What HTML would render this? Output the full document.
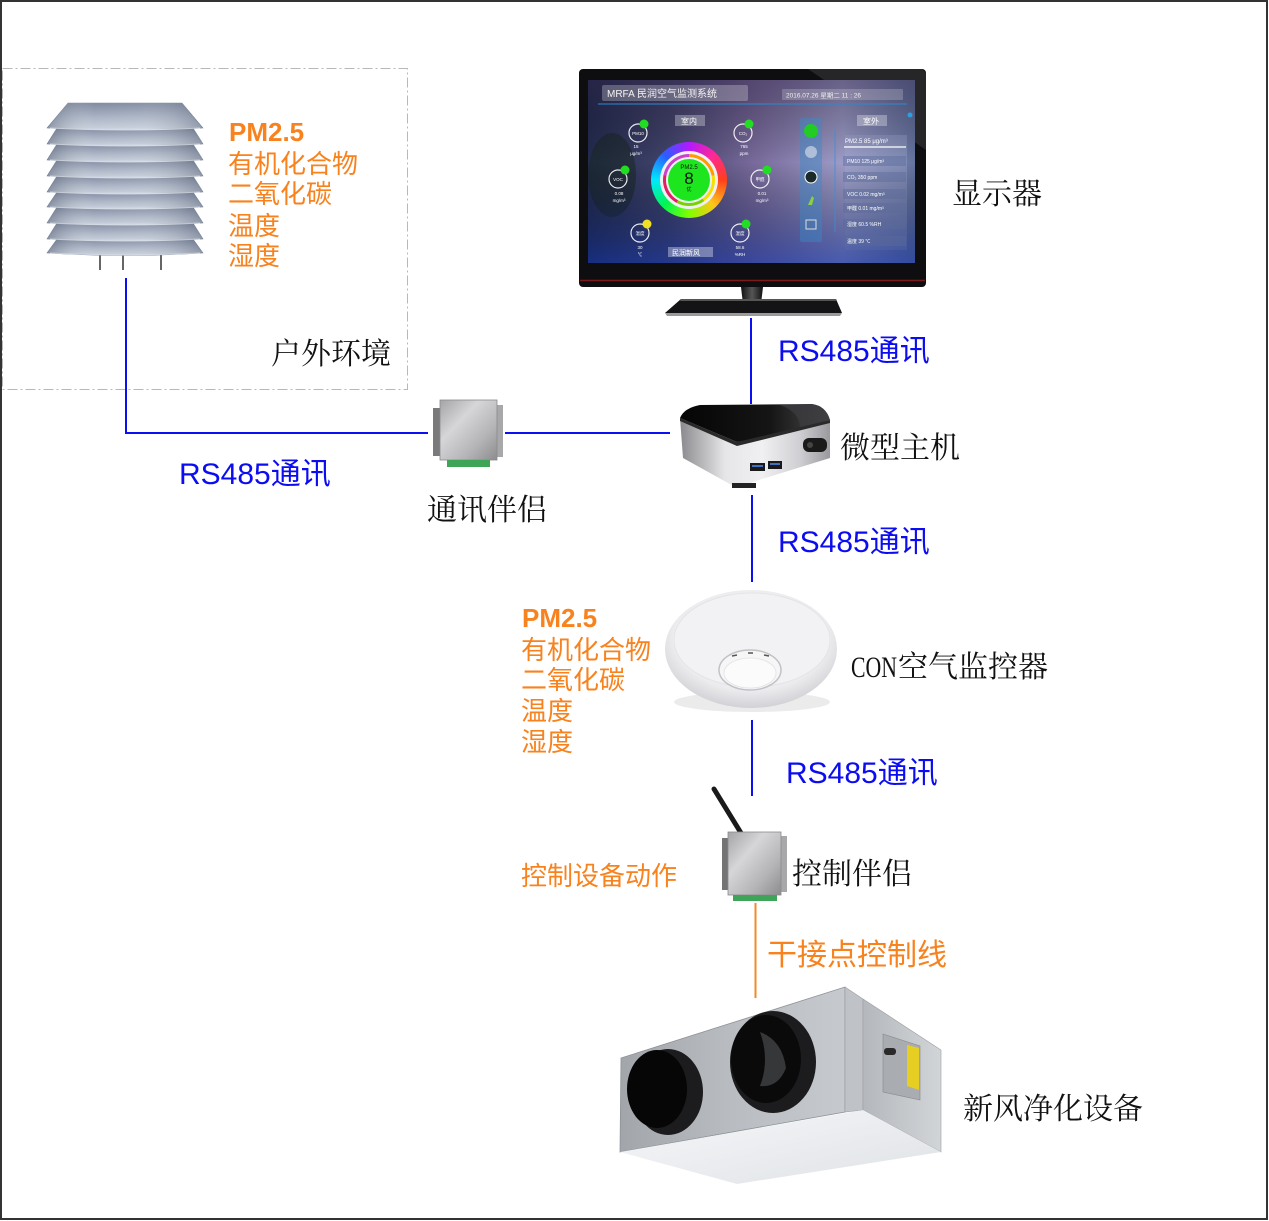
<!DOCTYPE html>
<html><head><meta charset="utf-8">
<style>
html,body{margin:0;padding:0;background:#fff;}
#wrap{position:relative;width:1269px;height:1221px;overflow:hidden;background:#fff;}
#wrap svg{position:absolute;left:0;top:0;}
.r{position:absolute;border-radius:50%;}
</style></head><body><div id="wrap">
<svg width="1269" height="1221" viewBox="0 0 1269 1221" xmlns="http://www.w3.org/2000/svg">
<defs>
 <linearGradient id="sv" x1="0" y1="0" x2="0" y2="1">
  <stop offset="0" stop-color="#7a869c"/><stop offset="0.55" stop-color="#a9b3c4"/><stop offset="1" stop-color="#cbd2de"/>
 </linearGradient>
 <linearGradient id="sh" x1="0" y1="0" x2="1" y2="0">
  <stop offset="0" stop-color="#4a5468" stop-opacity="0.45"/><stop offset="0.3" stop-color="#fff" stop-opacity="0.05"/>
  <stop offset="0.6" stop-color="#fff" stop-opacity="0.1"/><stop offset="1" stop-color="#4a5468" stop-opacity="0.4"/>
 </linearGradient>
 <linearGradient id="scr" x1="0" y1="0" x2="1" y2="0">
  <stop offset="0" stop-color="#232c50"/><stop offset="0.25" stop-color="#42446c"/>
  <stop offset="0.5" stop-color="#77699a"/><stop offset="0.78" stop-color="#9d9cc8"/><stop offset="1" stop-color="#6574a0"/>
 </linearGradient>
 <linearGradient id="scr2" x1="0" y1="0" x2="0" y2="1">
  <stop offset="0" stop-color="#2a1c3c" stop-opacity="0.45"/><stop offset="0.45" stop-color="#000" stop-opacity="0"/>
  <stop offset="1" stop-color="#1030a0" stop-opacity="0.6"/>
 </linearGradient>
 <linearGradient id="neck" x1="0" y1="0" x2="1" y2="0">
  <stop offset="0" stop-color="#111"/><stop offset="0.5" stop-color="#555"/><stop offset="1" stop-color="#111"/>
 </linearGradient>
 <linearGradient id="box" x1="0" y1="0" x2="1" y2="1">
  <stop offset="0" stop-color="#a4a4a6"/><stop offset="0.35" stop-color="#d6d6d8"/>
  <stop offset="0.7" stop-color="#b4b4b6"/><stop offset="1" stop-color="#8c8c8e"/>
 </linearGradient>
 <linearGradient id="pcs" x1="0" y1="0" x2="1" y2="0">
  <stop offset="0" stop-color="#8a8a8e"/><stop offset="0.3" stop-color="#e6e6e8"/>
  <stop offset="0.55" stop-color="#f0f0f2"/><stop offset="0.8" stop-color="#cfcfd3"/><stop offset="1" stop-color="#9a9a9e"/>
 </linearGradient>
 <linearGradient id="pct" x1="0" y1="0" x2="1" y2="0">
  <stop offset="0" stop-color="#050505"/><stop offset="0.6" stop-color="#151515"/><stop offset="1" stop-color="#4a4a4c"/>
 </linearGradient>
 <radialGradient id="puck" cx="0.5" cy="0.4" r="0.6">
  <stop offset="0" stop-color="#f6f6f8"/><stop offset="0.75" stop-color="#ececef"/><stop offset="1" stop-color="#d2d2d6"/>
 </radialGradient>
 <linearGradient id="ff" x1="0" y1="0" x2="1" y2="0">
  <stop offset="0" stop-color="#a2a6ab"/><stop offset="0.5" stop-color="#b9bdc1"/><stop offset="1" stop-color="#c6c9cd"/>
 </linearGradient>
 <linearGradient id="fr" x1="0" y1="0" x2="1" y2="0">
  <stop offset="0" stop-color="#b4b8bc"/><stop offset="1" stop-color="#d2d5d8"/>
 </linearGradient>
 <linearGradient id="fw" x1="0" y1="0" x2="1" y2="1">
  <stop offset="0" stop-color="#f6f7f9"/><stop offset="1" stop-color="#dfe2e6"/>
 </linearGradient>
 <g id="bands">
  <path d="M57,239 L193,239 L203,253 Q125,258 47,253 Z"/>
  <path d="M57,223 L193,223 L203,239 Q125,244 47,239 Z"/>
  <path d="M57,207 L193,207 L203,223 Q125,228 47,223 Z"/>
  <path d="M57,192 L193,192 L203,207 Q125,212 47,207 Z"/>
  <path d="M57,176 L193,176 L203,192 Q125,197 47,192 Z"/>
  <path d="M57,160 L193,160 L203,176 Q125,181 47,176 Z"/>
  <path d="M57,144 L193,144 L203,160 Q125,165 47,160 Z"/>
  <path d="M57,128 L193,128 L203,144 Q125,149 47,144 Z"/>
  <path d="M68,103 L182,103 L203,128 Q125,133 47,128 Z"/>
 </g>
</defs>

<rect x="1" y="1" width="1266" height="1218" fill="#fff" stroke="#333" stroke-width="2"/>
<rect x="2.5" y="68.5" width="405" height="321" fill="none" stroke="#b8b8b8" stroke-width="1" stroke-dasharray="10 3 2 3"/>

<g>
 <line x1="100" y1="252" x2="100" y2="270" stroke="#666" stroke-width="2"/>
 <line x1="123" y1="252" x2="123" y2="270" stroke="#666" stroke-width="2"/>
 <line x1="161" y1="252" x2="161" y2="270" stroke="#666" stroke-width="2"/>
 <use href="#bands" fill="url(#sv)" stroke="#7e8aa0" stroke-width="0.6"/>
 <use href="#bands" fill="url(#sh)"/>
 <g fill="none" stroke="#dde2ea" stroke-width="1" opacity="0.7">
  <path d="M50,253 Q125,257 200,253"/><path d="M50,239 Q125,243 200,239"/><path d="M50,223 Q125,227 200,223"/>
  <path d="M50,207 Q125,211 200,207"/><path d="M50,192 Q125,196 200,192"/><path d="M50,176 Q125,180 200,176"/>
  <path d="M50,160 Q125,164 200,160"/><path d="M50,144 Q125,148 200,144"/><path d="M50,128 Q125,132 200,128"/>
 </g>
</g>

<g stroke="#0a10f0" stroke-width="2" fill="none">
 <polyline points="126,278 126,433 428,433"/>
 <line x1="505" y1="433" x2="670" y2="433"/>
 <line x1="751" y1="318" x2="751" y2="404"/>
 <line x1="752" y1="495" x2="752" y2="582"/>
 <line x1="752" y1="720" x2="752" y2="796"/>
</g>
<line x1="755.5" y1="903" x2="755.5" y2="998" stroke="#f08a2a" stroke-width="2"/>

<g>
 <rect x="579" y="69" width="347" height="218" rx="4" fill="#0e0e10"/>
 <polygon points="808,69 922,69 926,73 926,150" fill="#3a3a3e" opacity="0.55"/>
 <rect x="588" y="80" width="327" height="183" fill="url(#scr)"/>
 <rect x="845" y="135" width="62" height="115" fill="#aab2d8" opacity="0.35"/>
 <ellipse cx="612" cy="175" rx="24" ry="42" fill="#18261e" opacity="0.5"/>
 <rect x="588" y="80" width="327" height="183" fill="url(#scr2)"/>
 <line x1="580" y1="280.5" x2="925" y2="280.5" stroke="#7a1c1c" stroke-width="1.5"/>
 <path d="M741,287 L763,287 L761,304 L743,304 Z" fill="url(#neck)"/>
 <path d="M681,299 L836,299 L842,313 L665,313 Z" fill="#141416"/>
 <path d="M681,299 L836,299 L837,301 L680,301 Z" fill="#555"/>
 <path d="M665,313 L842,313 L840,316 L667,316 Z" fill="#9a9a9a"/>
 <g font-family="'Liberation Sans','Noto Sans CJK SC',sans-serif" fill="#fff">
  <rect x="602" y="85" width="146" height="16" rx="2" fill="#fff" opacity="0.25"/>
  <text x="607" y="97" font-size="10" fill="#f4f4f4">MRFA 民润空气监测系统</text>
  <rect x="782" y="89" width="121" height="11" rx="1" fill="#fff" opacity="0.2"/>
  <text x="786" y="97.5" font-size="6.5" fill="#eee">2016.07.26   星期二   11 : 26</text>
  <line x1="598" y1="104" x2="907" y2="104" stroke="#2a8ad0" stroke-width="1"/>
  <rect x="675" y="115" width="30" height="11" fill="#fff" opacity="0.3"/>
  <text x="681" y="124" font-size="8">室内</text>
  <rect x="857" y="115" width="30" height="11" fill="#fff" opacity="0.3"/>
  <text x="863" y="124" font-size="8">室外</text>
  <circle cx="910" cy="115" r="2.5" fill="#2aa0e0"/>
  <g fill="none" stroke="#fff" stroke-width="1.2" opacity="0.9">
   <circle cx="638" cy="133" r="9"/><circle cx="743" cy="133" r="9"/>
   <circle cx="618" cy="179" r="9"/><circle cx="760" cy="179" r="9"/>
   <circle cx="640" cy="233" r="9"/><circle cx="740" cy="233" r="9"/>
  </g>
  <circle cx="644" cy="124" r="4.5" fill="#22dd22"/><circle cx="749" cy="124" r="4.5" fill="#22dd22"/>
  <circle cx="625" cy="170" r="4.5" fill="#22dd22"/><circle cx="767" cy="170" r="4.5" fill="#22dd22"/>
  <circle cx="647" cy="224" r="4.5" fill="#f0e020"/><circle cx="746" cy="224" r="4.5" fill="#22dd22"/>
  <g font-size="4.5" text-anchor="middle">
   <text x="638" y="135">PM10</text><text x="743" y="135">CO₂</text>
   <text x="618" y="181">VOC</text><text x="760" y="181">甲醛</text>
   <text x="640" y="235">温度</text><text x="740" y="235">湿度</text>
   <text x="636" y="148">15</text><text x="636" y="155">μg/m³</text>
   <text x="744" y="148">765</text><text x="744" y="155">ppm</text>
   <text x="619" y="195">0.08</text><text x="619" y="202">mg/m³</text>
   <text x="762" y="195">0.01</text><text x="762" y="202">mg/m³</text>
   <text x="640" y="249">30</text><text x="640" y="256">℃</text>
   <text x="740" y="249">58.6</text><text x="740" y="256">%RH</text>
  </g>
  <rect x="800" y="118" width="22" height="124" rx="2" fill="#3a8ac8" opacity="0.45"/>
  <circle cx="811" cy="131" r="7" fill="#22cc22"/>
  <circle cx="811" cy="152" r="6" fill="#dfe4ee" opacity="0.6"/>
  <circle cx="811" cy="177" r="6" fill="#1a2a2a" stroke="#fff" stroke-width="1"/>
  <path d="M808,205 L812,196 L814,198 L812,205 Z" fill="#8ad040"/>
  <rect x="806" y="220" width="10" height="9" fill="none" stroke="#ddd" stroke-width="1"/>
  <line x1="835" y1="129" x2="835" y2="232" stroke="#3a90d0" stroke-width="0.8"/>
  <g font-size="6">
   <text x="845" y="143">PM2.5   85   μg/m³</text>
   <line x1="844" y1="147" x2="906" y2="147" stroke="#fff" stroke-width="1.3"/>
   <rect x="843" y="156" width="63" height="10" fill="#5a6a9a" opacity="0.45"/>
   <rect x="843" y="172" width="63" height="10" fill="#5a6a9a" opacity="0.45"/>
   <rect x="843" y="189" width="63" height="10" fill="#5a6a9a" opacity="0.45"/>
   <rect x="843" y="203" width="63" height="10" fill="#5a6a9a" opacity="0.45"/>
   <rect x="843" y="219" width="63" height="10" fill="#5a6a9a" opacity="0.45"/>
   <rect x="843" y="236" width="63" height="10" fill="#5a6a9a" opacity="0.45"/>
   <text x="847" y="163" font-size="5">PM10    125    μg/m³</text>
   <text x="847" y="179" font-size="5">CO₂    350    ppm</text>
   <text x="847" y="196" font-size="5">VOC    0.02   mg/m³</text>
   <text x="847" y="210" font-size="5">甲醛    0.01   mg/m³</text>
   <text x="847" y="226" font-size="5">湿度    60.5   %RH</text>
   <text x="847" y="243" font-size="5">温度    39     ℃</text>
  </g>
  <rect x="668" y="247" width="45" height="10" fill="#fff" opacity="0.35"/>
  <text x="672" y="255" font-size="7">民润新风</text>
 </g>
</g>

<g>
 <rect x="433" y="408" width="8" height="48" fill="#7a7a7c"/>
 <rect x="496" y="405" width="7" height="52" fill="#a8a8aa"/>
 <rect x="440" y="400" width="57" height="60" fill="url(#box)"/>
 <rect x="440" y="400" width="57" height="60" fill="none" stroke="#8a8a8c" stroke-width="0.8"/>
 <rect x="447" y="460" width="43" height="7" fill="#3ea458"/>
</g>

<g>
 <polygon points="680,418 737,441 830,420 830,458 762,479 737,488 683,458" fill="url(#pcs)"/>
 <path d="M680,418 Q684,408 700,405 L812,404 Q826,406 830,420 L765,437 L737,442 Z" fill="url(#pct)"/>
 <path d="M780,405 L812,404 Q826,406 830,420 L800,428 Q800,412 780,405 Z" fill="#3c3c40" opacity="0.8"/>
 <polygon points="680,418 737,442 830,420 830,423 737,446 680,421" fill="#2a2a2a"/>
 <rect x="732" y="483" width="24" height="5" fill="#222"/>
 <rect x="750" y="463" width="15" height="8" fill="#1a1a1c"/>
 <rect x="768" y="461" width="14" height="8" fill="#1a1a1c"/>
 <rect x="752" y="465" width="11" height="2" fill="#4070c0"/>
 <rect x="770" y="463" width="10" height="2" fill="#4070c0"/>
 <rect x="803" y="438" width="24" height="14" rx="6" fill="#1a1a1a"/>
 <circle cx="810" cy="445" r="3" fill="#444"/>
</g>

<g>
 <ellipse cx="752" cy="702" rx="78" ry="10" fill="#d8d8d8" opacity="0.5"/>
 <ellipse cx="751" cy="649" rx="86" ry="59" fill="url(#puck)"/>
 <ellipse cx="752" cy="640" rx="78" ry="47" fill="#f2f2f4" stroke="#e2e2e6" stroke-width="0.8"/>
 <ellipse cx="750" cy="670" rx="31" ry="20" fill="#f6f6f7" stroke="#c2c2c6" stroke-width="1.5"/>
 <ellipse cx="750" cy="673" rx="26" ry="15" fill="#fbfbfc" stroke="#e2e2e6" stroke-width="0.8"/>
 <g stroke="#555" stroke-width="1.5">
  <line x1="732" y1="656" x2="737" y2="655"/><line x1="748" y1="653" x2="753" y2="653"/><line x1="764" y1="655" x2="769" y2="656"/>
 </g>
</g>

<g>
 <line x1="714" y1="789" x2="741" y2="833" stroke="#1a1a1a" stroke-width="5" stroke-linecap="round"/>
 <rect x="722" y="838" width="7" height="52" fill="#747476"/>
 <rect x="780" y="836" width="7" height="56" fill="#a8a8aa"/>
 <rect x="728" y="832" width="53" height="63" fill="url(#box)"/>
 <rect x="728" y="832" width="53" height="63" fill="none" stroke="#8a8a8c" stroke-width="0.8"/>
 <rect x="733" y="895" width="44" height="6" fill="#3ea458"/>
</g>

<g>
 <polygon points="621,1058 845,987 845,1112 620,1152" fill="url(#ff)" stroke="#8e9297" stroke-width="0.8"/>
 <polygon points="845,987 863,999 863,1110 845,1112" fill="#bfc2c6" stroke="#9a9ea2" stroke-width="0.6"/>
 <polygon points="863,999 941,1050 941,1152 863,1110" fill="url(#fr)" stroke="#9a9ea2" stroke-width="0.6"/>
 <polygon points="620,1152 863,1110 941,1152 737,1184" fill="url(#fw)"/>
 <ellipse cx="668" cy="1092" rx="35" ry="43" fill="#1c1c1e"/>
 <ellipse cx="657" cy="1089" rx="30" ry="39" fill="#060607"/>
 <ellipse cx="773" cy="1062" rx="43" ry="51" fill="#1c1c1e"/>
 <ellipse cx="766" cy="1059" rx="35" ry="44" fill="#0a0a0b"/>
 <path d="M760,1032 Q782,1040 786,1068 Q778,1088 760,1086 Q770,1060 760,1032 Z" fill="#6a6e72" opacity="0.45"/>
 <polygon points="883,1034 920,1046 920,1100 883,1092" fill="#a9adb1" stroke="#888" stroke-width="0.6"/>
 <rect x="884" y="1048" width="12" height="7" rx="3" fill="#2a2a2a"/>
 <polygon points="907,1045 919,1048 919,1090 907,1086" fill="#e6cf22"/>
</g>

<g font-family="'Liberation Sans','Noto Sans CJK SC',sans-serif" font-size="30" fill="#0c0cf0">
 <text x="778" y="361">RS485通讯</text>
 <text x="179" y="484">RS485通讯</text>
 <text x="778" y="552">RS485通讯</text>
 <text x="786" y="783">RS485通讯</text>
</g>
<g font-family="'Liberation Sans','Noto Sans CJK SC',sans-serif" font-size="26" fill="#f7821e">
 <text x="229" y="141" font-weight="bold">PM2.5</text>
 <text x="228" y="173">有机化合物</text>
 <text x="228" y="203">二氧化碳</text>
 <text x="228" y="235">温度</text>
 <text x="228" y="265">湿度</text>
 <text x="522" y="627" font-weight="bold">PM2.5</text>
 <text x="521" y="659">有机化合物</text>
 <text x="521" y="689">二氧化碳</text>
 <text x="521" y="720">温度</text>
 <text x="521" y="751">湿度</text>
 <text x="521" y="885">控制设备动作</text>
 <text x="767" y="965" font-size="30">干接点控制线</text>
</g>
<g font-family="'Liberation Serif','Noto Serif CJK SC',serif" font-size="30" fill="#111">
 <text x="271" y="364">户外环境</text>
 <text x="952" y="204">显示器</text>
 <text x="840" y="458">微型主机</text>
 <text x="427" y="520">通讯伴侣</text>
 <text x="851" y="677" textLength="46" lengthAdjust="spacingAndGlyphs">CON</text>
 <text x="898" y="677">空气监控器</text>
 <text x="792" y="884">控制伴侣</text>
 <text x="963" y="1119">新风净化设备</text>
</g>
</svg>

<div class="r" style="left:651px;top:142px;width:76px;height:76px;background:conic-gradient(hsl(280,100%,55%),hsl(330,100%,58%),hsl(10,100%,55%),hsl(45,100%,55%),hsl(90,100%,50%),hsl(140,100%,48%),hsl(185,100%,50%),hsl(225,100%,58%),hsl(280,100%,55%));"></div>
<div class="r" style="left:660px;top:151px;width:58px;height:58px;background:#eef0f4;"></div>
<div class="r" style="left:663px;top:154px;width:52px;height:52px;background:conic-gradient(#ff9a00 0 22%,#f4e000 22% 40%,#7ad000 40% 58%,#e02060 58% 78%,#cc40cc 78% 100%);"></div>
<div class="r" style="left:666px;top:157px;width:46px;height:46px;background:#eef0f4;"></div>
<div class="r" style="left:668px;top:159px;width:42px;height:42px;background:#1ee61e;text-align:center;font-family:'Liberation Sans','Noto Sans CJK SC',sans-serif;color:#111;">
 <div style="font-size:6px;line-height:6px;margin-top:6px;">PM2.5</div>
 <div style="font-size:17px;line-height:16px;">8</div>
 <div style="font-size:5px;line-height:6px;">优</div>
</div>
</div></body></html>
